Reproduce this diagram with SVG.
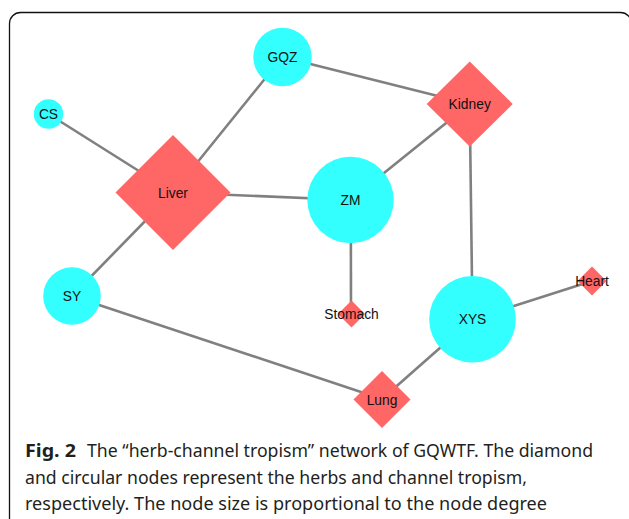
<svg xmlns="http://www.w3.org/2000/svg" width="629" height="519" viewBox="0 0 629 519">
<style>
.edge{stroke:#808080;stroke-width:2.6;fill:none}
.herb{fill:#33FFFF}
.organ{fill:#FF6666}
.lbl{font-family:"Liberation Sans",Arial,sans-serif;font-size:13.8px;fill:#111;text-anchor:middle}
.cap{font-family:"Noto Sans","Open Sans",sans-serif;font-size:17.5px;fill:#231f20}
</style>
<rect x="9.5" y="12.5" width="622" height="530" rx="11" fill="none" stroke="#111" stroke-width="1.3"/>
<g id="connectors">
<line class="edge" x1="48.5" y1="114" x2="173" y2="192.5"/>
<line class="edge" x1="282.5" y1="57" x2="173" y2="192.5"/>
<line class="edge" x1="282.5" y1="57" x2="469.7" y2="104"/>
<line class="edge" x1="469.7" y1="104" x2="350.5" y2="200"/>
<line class="edge" x1="469.7" y1="104" x2="472.5" y2="319.3"/>
<line class="edge" x1="173" y1="192.5" x2="350.5" y2="200"/>
<line class="edge" x1="173" y1="192.5" x2="72" y2="296"/>
<line class="edge" x1="350.8" y1="200" x2="351" y2="314"/>
<line class="edge" x1="472.5" y1="319.3" x2="592" y2="281"/>
<line class="edge" x1="472.5" y1="319.3" x2="382" y2="399"/>
<line class="edge" x1="72" y1="296" x2="382" y2="399"/>
</g>
<g id="GQZ"><circle class="herb" cx="282.5" cy="57" r="29.2"/><text class="lbl" x="282.5" y="62">GQZ</text></g>
<g id="CS"><circle class="herb" cx="48.5" cy="114" r="14.7"/><text class="lbl" x="48.5" y="119">CS</text></g>
<g id="Kidney"><polygon class="organ" points="469.7,61.5 512.7,104 469.7,146.5 426.7,104"/><text class="lbl" x="469.7" y="109">Kidney</text></g>
<g id="Liver"><polygon class="organ" points="173,135 230.5,192.5 173,250 115.5,192.5"/><text class="lbl" x="173" y="197.5">Liver</text></g>
<g id="ZM"><circle class="herb" cx="350.5" cy="200" r="43.2"/><text class="lbl" x="350.5" y="205">ZM</text></g>
<g id="SY"><circle class="herb" cx="72" cy="296" r="28.8"/><text class="lbl" x="72" y="301">SY</text></g>
<g id="Stomach"><polygon class="organ" points="351.5,300.5 365,314 351.5,327.5 338,314"/><text class="lbl" x="351.5" y="319">Stomach</text></g>
<g id="XYS"><circle class="herb" cx="472.5" cy="319.3" r="43.3"/><text class="lbl" x="472.5" y="324.3">XYS</text></g>
<g id="Heart"><polygon class="organ" points="592,266.5 606.5,281 592,295.5 577.5,281"/><text class="lbl" x="592" y="286">Heart</text></g>
<g id="Lung"><polygon class="organ" points="382,371 410.5,399.5 382,428 353.5,399.5"/><text class="lbl" x="382" y="404.5">Lung</text></g>
<text class="cap" x="25" y="457" font-weight="bold" textLength="51" lengthAdjust="spacingAndGlyphs">Fig. 2</text>
<text class="cap" x="87" y="457" textLength="506" lengthAdjust="spacingAndGlyphs">The “herb-channel tropism” network of GQWTF. The diamond</text>
<text class="cap" x="25" y="484" textLength="502" lengthAdjust="spacingAndGlyphs">and circular nodes represent the herbs and channel tropism,</text>
<text class="cap" x="25" y="510" textLength="522" lengthAdjust="spacingAndGlyphs">respectively. The node size is proportional to the node degree</text>
</svg>
